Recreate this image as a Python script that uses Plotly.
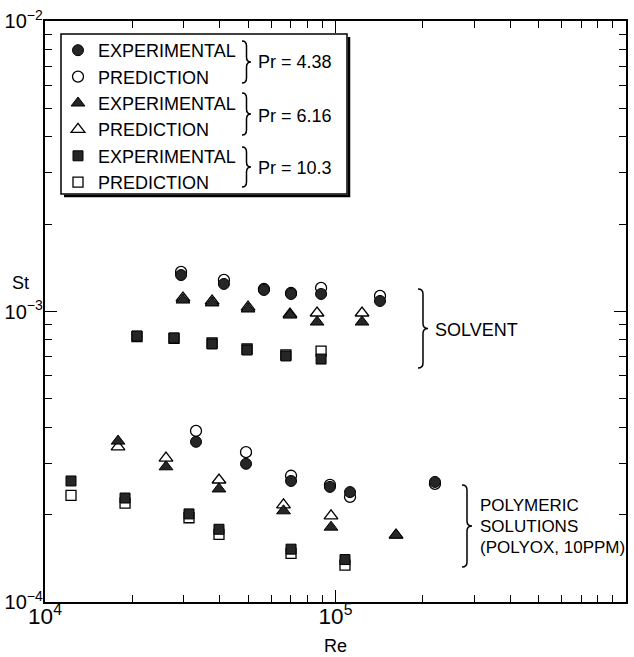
import plotly.graph_objects as go

# ---------------- data ----------------
# Pr = 4.38 (circles)
re_c_exp = [29400, 41300, 56700, 70300, 89200, 142300,
            33100, 49200, 70300, 95700, 112200, 220000]
st_c_exp = [1.335e-3, 1.244e-3, 1.186e-3, 1.149e-3, 1.149e-3, 1.087e-3,
            3.56e-4, 2.99e-4, 2.61e-4, 2.49e-4, 2.39e-4, 2.59e-4]
re_c_pred = [29400, 41300, 56700, 70300, 89200, 142300,
             33100, 49200, 70300, 95700, 112200, 220000]
st_c_pred = [1.368e-3, 1.284e-3, 1.195e-3, 1.158e-3, 1.205e-3, 1.131e-3,
             3.88e-4, 3.28e-4, 2.72e-4, 2.53e-4, 2.30e-4, 2.55e-4]

# Pr = 6.16 (triangles)
re_t_exp = [29850, 37600, 50000, 69700, 86400, 123400,
            17840, 26090, 39710, 66220, 96500, 161600]
st_t_exp = [1.095e-3, 1.070e-3, 1.020e-3, 9.72e-4, 9.20e-4, 9.20e-4,
            3.58e-4, 2.92e-4, 2.45e-4, 2.06e-4, 1.81e-4, 1.70e-4]
re_t_pred = [29850, 37600, 50000, 69700, 86400, 123400,
             17840, 26090, 39710, 66220, 96500, 161600]
st_t_pred = [1.113e-3, 1.087e-3, 1.036e-3, 9.80e-4, 9.88e-4, 9.88e-4,
             3.42e-4, 3.13e-4, 2.63e-4, 2.16e-4, 1.98e-4, 1.70e-4]

# Pr = 10.3 (squares)
re_s_exp = [20730, 27800, 37600, 49600, 67500, 89200,
            12290, 18860, 31310, 39710, 70300, 107800]
st_s_exp = [8.24e-4, 8.11e-4, 7.73e-4, 7.37e-4, 7.03e-4, 6.86e-4,
            2.61e-4, 2.28e-4, 2.01e-4, 1.78e-4, 1.52e-4, 1.40e-4]
re_s_pred = [20730, 27800, 37600, 49600, 67500, 89200,
             12290, 18860, 31310, 39710, 70300, 107800]
st_s_pred = [8.20e-4, 8.08e-4, 7.79e-4, 7.43e-4, 7.09e-4, 7.31e-4,
             2.33e-4, 2.19e-4, 1.95e-4, 1.71e-4, 1.47e-4, 1.34e-4]

x_range_log = [4, 6]     # Re from 10^4 to 10^6
y_range_log = [-4, -2]   # St from 10^-4 to 10^-2

legend_labels = ["EXPERIMENTAL", "PREDICTION"]
pr_labels = ["Pr = 4.38", "Pr = 6.16", "Pr = 10.3"]
solvent_label = "SOLVENT"
poly_labels = ["POLYMERIC", "SOLUTIONS", "(POLYOX, 10PPM)"]

# ---------------- layout geometry ----------------
W, H = 634, 657
ML, MR, MT, MB = 45, 8, 21, 55
PW, PH = W - ML - MR, H - MT - MB
FONT = "Liberation Sans, Arial, sans-serif"


def px(x):
    return (x - ML) / PW


def py(y):
    return (H - MB - y) / PH


fig = go.Figure()

dark = "#262626"
series = [
    ("4.38", "circle", 11, re_c_exp, st_c_exp, re_c_pred, st_c_pred, 1),
    ("6.16", "triangle-up", 12, re_t_exp, st_t_exp, re_t_pred, st_t_pred, 3),
    ("10.3", "square", 10, re_s_exp, st_s_exp, re_s_pred, st_s_pred, 5),
]
# prediction (open) drawn first, experimental (filled) on top
for name, sym, size, rx, sx, rp, sp, rank in series:
    fig.add_trace(go.Scatter(
        x=rp, y=sp, mode="markers", name=legend_labels[1],
        legendgroup=name, legendrank=rank + 1,
        marker=dict(symbol=sym, size=size, color="white",
                    line=dict(color="black", width=1.3)),
    ))
for name, sym, size, rx, sx, rp, sp, rank in series:
    fig.add_trace(go.Scatter(
        x=rx, y=sx, mode="markers", name=legend_labels[0],
        legendgroup=name, legendrank=rank,
        marker=dict(symbol=sym, size=size, color=dark,
                    line=dict(color="black", width=1)),
    ))

axis_common = dict(
    type="log", showgrid=False, zeroline=False, automargin=False,
    showline=True, linecolor="black", linewidth=2, mirror="allticks",
    tickmode="linear", tick0=0, dtick=1, exponentformat="power",
    ticks="inside", ticklen=12, tickwidth=1.3, tickcolor="black",
    minor=dict(ticks="inside", ticklen=7, tickwidth=1, tickcolor="black",
               dtick="D1", showgrid=False),
)
fig.update_xaxes(range=x_range_log, ticklabelstandoff=-6,
                 tickfont=dict(family=FONT, size=18, color="black"),
                 **axis_common)
fig.update_yaxes(range=y_range_log, ticklabelstandoff=-3,
                 tickfont=dict(family=FONT, size=16, color="black"),
                 **axis_common)


def brace(x0, y1, y2, w):
    xm = x0 + w / 2
    tip = x0 + w
    ym = (y1 + y2) / 2
    q = 5
    pts = [
        ("M", [(x0, y1)]),
        ("Q", [(xm, y1), (xm, y1 + q)]),
        ("L", [(xm, ym - q)]),
        ("Q", [(xm, ym), (tip, ym)]),
        ("Q", [(xm, ym), (xm, ym + q)]),
        ("L", [(xm, y2 - q)]),
        ("Q", [(xm, y2), (x0, y2)]),
    ]
    s = ""
    for cmd, p in pts:
        s += cmd + " " + " ".join(f"{px(a):.5f},{py(b):.5f}" for a, b in p) + " "
    return s.strip()


shapes = []
for (x0, y1, y2, w) in [(418, 289, 368, 10), (462, 485, 567, 10),
                        (242, 41, 83, 9), (242, 93, 135, 9), (242, 147, 187, 9)]:
    shapes.append(dict(type="path", xref="paper", yref="paper",
                       path=brace(x0, y1, y2, w),
                       line=dict(color="black", width=1.5)))
# legend box + shadow
shapes.append(dict(type="rect", xref="paper", yref="paper",
                   x0=px(61), x1=px(347), y0=py(194), y1=py(34),
                   line=dict(color="black", width=1.5), fillcolor="rgba(0,0,0,0)"))
shapes.append(dict(type="path", xref="paper", yref="paper",
                   path=f"M {px(64):.5f},{py(196):.5f} L {px(349):.5f},{py(196):.5f} "
                        f"L {px(349):.5f},{py(37):.5f}",
                   line=dict(color="black", width=2.5)))

annotations = []
for lab, yy in zip(pr_labels, [62, 116, 168]):
    annotations.append(dict(xref="paper", yref="paper", x=px(256), y=py(yy),
                            text=lab, showarrow=False, xanchor="left",
                            yanchor="middle",
                            font=dict(family=FONT, size=18, color="black")))
annotations.append(dict(xref="paper", yref="paper", x=px(433), y=py(330),
                        text=solvent_label, showarrow=False, xanchor="left",
                        yanchor="middle",
                        font=dict(family=FONT, size=18, color="black")))
for lab, yy in zip(poly_labels, [505, 526, 547]):
    annotations.append(dict(xref="paper", yref="paper", x=px(478), y=py(yy),
                            text=lab, showarrow=False, xanchor="left",
                            yanchor="middle",
                            font=dict(family=FONT, size=17, color="black")))
annotations.append(dict(xref="paper", yref="paper", x=px(20), y=py(283),
                        text="St", showarrow=False, xanchor="center",
                        yanchor="middle",
                        font=dict(family=FONT, size=18, color="black")))
annotations.append(dict(xref="paper", yref="paper", x=px(335), y=py(646),
                        text="Re", showarrow=False, xanchor="center",
                        yanchor="middle",
                        font=dict(family=FONT, size=18, color="black")))

fig.update_layout(
    width=W, height=H,
    margin=dict(l=ML, r=MR, t=MT, b=MB, pad=0),
    paper_bgcolor="white", plot_bgcolor="white",
    showlegend=True,
    legend=dict(x=px(58), y=py(32), xanchor="left", yanchor="top",
                bgcolor="rgba(0,0,0,0)", borderwidth=0,
                traceorder="grouped", tracegroupgap=0,
                font=dict(family=FONT, size=18, color="black"),
                itemsizing="trace"),
    shapes=shapes,
    annotations=annotations,
)

fig.write_html("out.html")
